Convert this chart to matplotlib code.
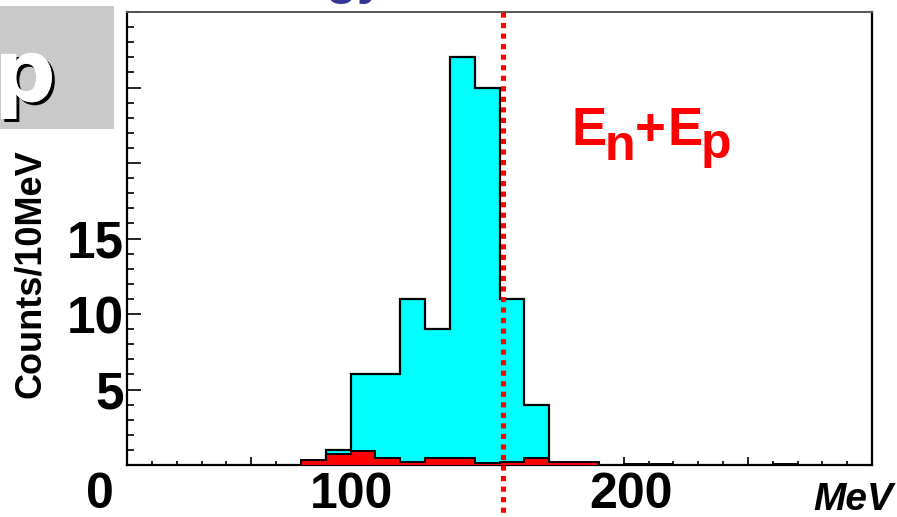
import matplotlib
matplotlib.use("Agg")
import matplotlib.pyplot as plt
from matplotlib.patches import Rectangle
from matplotlib.ticker import MultipleLocator
from matplotlib.transforms import ScaledTranslation
from matplotlib import patheffects

plt.rcParams['font.family'] = ['Liberation Sans', 'DejaVu Sans']
plt.rcParams['font.weight'] = 'bold'

# signal (cyan) histogram, 10 MeV bins
sig_edges = [80, 90, 100, 110, 120, 130, 140, 150, 160, 170]
sig_counts = [1, 6, 6, 11, 9, 27, 25, 11, 4]

# background (red) histogram, 10 MeV bins
bkg_edges = [70, 80, 90, 100, 110, 120, 130, 140, 150, 160, 170,
             180, 190, 200, 210, 220, 230, 240, 250, 260, 270]
bkg_counts = [0.33, 0.73, 0.93, 0.47, 0.2, 0.47, 0.47, 0.13, 0.2, 0.47,
              0.2, 0.2, 0, 0.05, 0.05, 0, 0, 0, 0, 0.05]

# expected En+Ep energy
e_line = 151.5

W, H = 897, 517


def fx(x):
    return x / W


def fy(y):
    return 1 - y / H


fig = plt.figure(figsize=(W / 100, H / 100), dpi=100)
ax = fig.add_axes([fx(127), fy(465), fx(872) - fx(127), fy(12) - fy(465)])

ax.stairs(sig_counts, sig_edges, fill=True, facecolor='#00ffff',
          edgecolor='black', linewidth=1.6, zorder=2)
ax.stairs(bkg_counts, bkg_edges, fill=True, facecolor='#ff0000',
          edgecolor='black', linewidth=1.4, zorder=3)
ax.plot([e_line, e_line], [30, -3.6], color='#ff0000', lw=3.7,
        linestyle=(0, (1, 1.05)), clip_on=False, zorder=5)

ax.set_xlim(0, 300)
ax.set_ylim(0, 30)

ax.set_xticks(range(0, 301, 50), ['0', '', '100', '', '200', '', ''])
ax.xaxis.set_minor_locator(MultipleLocator(10))
ax.set_yticks(range(0, 31, 5), ['', '5', '10', '15', '', '', ''])
ax.yaxis.set_minor_locator(MultipleLocator(1))

ax.tick_params(axis='x', which='major', direction='in', length=6, width=1.2,
               top=False, pad=5, labelsize=36)
ax.tick_params(axis='x', which='minor', direction='in', length=3, width=1.2,
               top=False)
ax.tick_params(axis='y', which='major', direction='in', length=10, width=1.2,
               right=False, pad=2, labelsize=37)
ax.tick_params(axis='y', which='minor', direction='in', length=5, width=1.2,
               right=False)

for lab, dx in zip(ax.get_xticklabels()[::2], [-27, -24, 7]):
    lab.set_transform(lab.get_transform() +
                      ScaledTranslation(dx / 100, 0, fig.dpi_scale_trans))

for s in ['left', 'bottom', 'right']:
    ax.spines[s].set_linewidth(1.6)
    ax.spines[s].set_color('black')
ax.spines['top'].set_linewidth(1.4)
ax.spines['top'].set_color('#555555')

fig.text(fx(30), fy(274), 'Counts/10MeV', rotation=90, ha='center',
         va='center', fontsize=26)
fig.text(fx(893), fy(510), 'MeV', ha='right', va='baseline', fontsize=28,
         style='italic')

# En+Ep label
red = '#ff0000'
fig.text(fx(571), fy(145), 'E', fontsize=38, color=red, va='baseline')
fig.text(fx(605), fy(160), 'n', fontsize=36, color=red, va='baseline')
fig.text(fx(635), fy(145), '+', fontsize=38, color=red, va='baseline')
fig.text(fx(667), fy(145), 'E', fontsize=38, color=red, va='baseline')
fig.text(fx(701), fy(158), 'p', fontsize=36, color=red, va='baseline')

# slide decorations around the crop
fig.add_artist(Rectangle((0, fy(129)), fx(114), (129 - 6) / H,
                         transform=fig.transFigure, facecolor='#c9c9c9',
                         edgecolor='none'))
fig.text(fx(-6), fy(101), 'p', fontsize=62, color='white', va='baseline',
         family='DejaVu Sans', weight='bold',
         path_effects=[patheffects.withSimplePatchShadow(
             offset=(2.2, -2.2), shadow_rgbFace='black', alpha=1.0),
             patheffects.Normal()])
fig.text(fx(385), fy(-6), 'Energy', ha='right', va='baseline',
         fontsize=36, color='#333399')

fig.savefig('out.png', dpi=100)
